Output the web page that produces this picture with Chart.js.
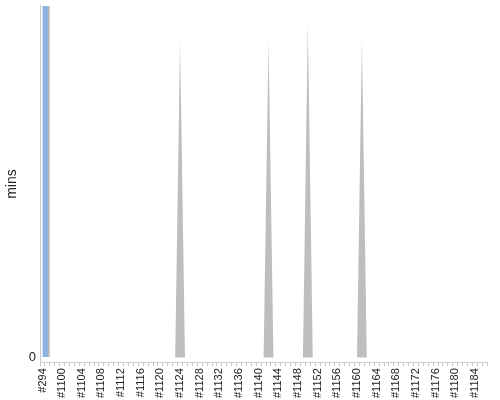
<!DOCTYPE html>
<html>
<head>
<meta charset="utf-8">
<script src="https://cdn.jsdelivr.net/npm/chart.js@4"></script>
<style>
    body { margin: 0; background: #fff; }
    #wrap { width: 500px; height: 400px; }
</style>
</head>
<body>
<div id="wrap"><canvas id="minsChart"></canvas></div>
<script>
// ticket ids along the x axis
const categories = [
    '#294', '#1097', '#1098', '#1099', '#1100', '#1101', '#1102', '#1103', '#1104', '#1105',
    '#1106', '#1107', '#1108', '#1109', '#1110', '#1111', '#1112', '#1113', '#1114', '#1115',
    '#1116', '#1117', '#1118', '#1119', '#1120', '#1121', '#1122', '#1123', '#1124', '#1125',
    '#1126', '#1127', '#1128', '#1129', '#1130', '#1131', '#1132', '#1133', '#1134', '#1135',
    '#1136', '#1137', '#1138', '#1139', '#1140', '#1141', '#1142', '#1143', '#1144', '#1145',
    '#1146', '#1147', '#1148', '#1149', '#1150', '#1151', '#1152', '#1153', '#1154', '#1155',
    '#1156', '#1157', '#1158', '#1159', '#1160', '#1161', '#1162', '#1163', '#1164', '#1165',
    '#1166', '#1167', '#1168', '#1169', '#1170', '#1171', '#1172', '#1173', '#1174', '#1175',
    '#1176', '#1177', '#1178', '#1179', '#1180', '#1181', '#1182', '#1183', '#1184', '#1185',
    '#1186'
];

// minutes per ticket (grey area)
const minsValues = [
    0, 0, 0, 0, 0, 0, 0, 0, 0, 0,
    0, 0, 0, 0, 0, 0, 0, 0, 0, 0,
    0, 0, 0, 0, 0, 0, 0, 0, 54, 0,
    0, 0, 0, 0, 0, 0, 0, 0, 0, 0,
    0, 0, 0, 0, 0, 0, 54, 0, 0, 0,
    0, 0, 0, 0, 57, 0, 0, 0, 0, 0,
    0, 0, 0, 0, 0, 54, 0, 0, 0, 0,
    0, 0, 0, 0, 0, 0, 0, 0, 0, 0,
    0, 0, 0, 0, 0, 0, 0, 0, 0, 0,
    0
];

// blue bar, only the first ticket (runs off the top)
const barValues = [75];

const yMax = 60;
const yTicks = [0];

const ctx = document.getElementById('minsChart');

const minsChart = new Chart(ctx, {
    type: 'bar',
    data: {
        labels: categories,
        datasets: [{
            // empty slot so the blue bar sits right of the category centre
            label: 'spacer',
            data: [],
            barThickness: 7
        }, {
            label: 'Bar',
            data: barValues,
            backgroundColor: '#8db3e2',
            borderColor: '#b8b8b8',
            borderWidth: { top: 0, right: 2, bottom: 0, left: 0 },
            borderSkipped: false,
            barThickness: 7
        }, {
            type: 'line',
            label: 'mins',
            data: minsValues,
            fill: 'origin',
            backgroundColor: '#bebebe',
            borderWidth: 0,
            pointRadius: 0,
            tension: 0
        }]
    },
    options: {
        responsive: true,
        maintainAspectRatio: false,
        animation: false,
        layout: {
            padding: { top: 4, right: 10, left: 4, bottom: 0 }
        },
        plugins: {
            legend: { display: false },
            tooltip: { enabled: false }
        },
        scales: {
            x: {
                offset: true,
                grid: {
                    drawOnChartArea: false,
                    drawTicks: true,
                    tickLength: 4,
                    color: '#c8c8c8'
                },
                border: { color: '#d0d0d0' },
                ticks: {
                    autoSkip: false,
                    maxRotation: 90,
                    minRotation: 90,
                    padding: 2,
                    color: '#222',
                    font: { family: '"Liberation Sans", Arial, sans-serif', size: 11 },
                    callback: function(value, index) {
                        return index % 4 === 0 ? categories[index] : '';
                    }
                }
            },
            y: {
                min: -0.8,
                max: yMax,
                grid: { drawOnChartArea: false, drawTicks: false },
                border: { color: '#c8c8c8' },
                afterBuildTicks: function(axis) {
                    axis.ticks = yTicks.map(v => ({ value: v }));
                },
                ticks: {
                    padding: 4,
                    color: '#222',
                    font: { family: '"Liberation Sans", Arial, sans-serif', size: 13, lineHeight: 0.3 }
                },
                title: {
                    display: true,
                    text: 'mins',
                    color: '#222',
                    padding: { top: 0, bottom: 4 },
                    font: { family: '"Liberation Sans", Arial, sans-serif', size: 14 }
                }
            }
        }
    }
});
</script>
</body>
</html>
